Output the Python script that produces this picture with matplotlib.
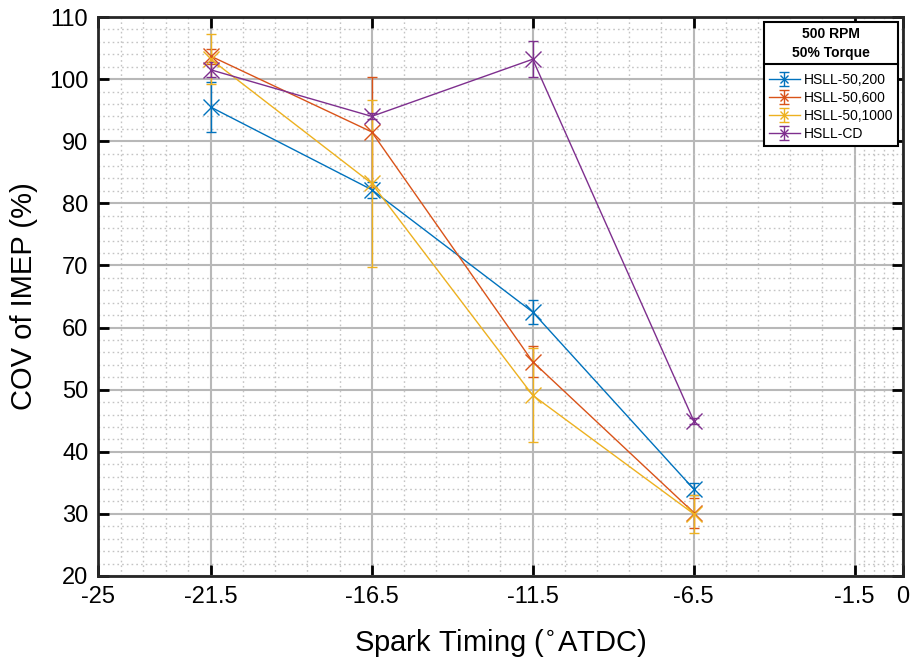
import numpy as np
import matplotlib
matplotlib.use('Agg')
import matplotlib.pyplot as plt
from matplotlib.lines import Line2D

plt.rcParams['font.family'] = ['Liberation Sans', 'DejaVu Sans']

# spark timing (deg ATDC)
timing = [-21.5, -16.5, -11.5, -6.5]
xticks = [-25, -21.5, -16.5, -11.5, -6.5, -1.5, 0]
xticklabels = ['-25', '-21.5', '-16.5', '-11.5', '-6.5', '-1.5', '0']

labels = ['HSLL-50,200', 'HSLL-50,600', 'HSLL-50,1000', 'HSLL-CD']
colors = ['#0072BD', '#D95319', '#EDB120', '#7E2F8E']

# COV of IMEP (%) and error half-widths
cov_200 = [95.5, 82.2, 62.5, 34.0]
err_200 = [4.0, 1.3, 2.0, 1.0]
cov_600 = [103.7, 91.5, 54.5, 30.2]
err_600 = [1.2, 8.8, 2.5, 2.4]
cov_1000 = [103.2, 83.2, 49.1, 30.0]
err_1000 = [4.0, 13.5, 7.6, 3.0]
cov_cd = [101.5, 94.0, 103.2, 45.0]
err_cd = [1.2, 0.5, 2.9, 0.5]

series = [(cov_200, err_200), (cov_600, err_600), (cov_1000, err_1000), (cov_cd, err_cd)]

fig = plt.figure(figsize=(9.12, 6.68), dpi=100)
ax = fig.add_axes([98/912, 1 - 576/668, (903-98)/912, (576-17)/668])

for (y, e), c, lab in zip(series, colors, labels):
    ax.errorbar(timing, y, yerr=e, color=c, marker='x', markersize=11, markeredgewidth=1.0,
                linewidth=1.0, elinewidth=1.0, capsize=3.5, label=lab, zorder=3)

ax.set_xlim(-25, 0)
ax.set_ylim(20, 110)
ax.set_xticks(xticks)
ax.set_xticklabels(xticklabels)
ax.set_yticks(np.arange(20, 111, 10))

# minor grid: 5 divisions between consecutive major ticks
xminor = []
for a, b in zip(xticks[:-1], xticks[1:]):
    xminor += list(np.linspace(a, b, 6)[1:-1])
ax.set_xticks(xminor, minor=True)
ax.set_yticks(np.arange(20, 110, 2), minor=True)

ax.grid(True, which='major', color='#b8b8b8', linewidth=1.5, linestyle='-')
ax.grid(True, which='minor', color='#c4c4c4', linewidth=1.0, linestyle=(0, (1.2, 2.2)))
ax.set_axisbelow(True)

ax.tick_params(which='major', direction='in', length=8, width=2, top=True, right=True,
               labelsize=17, pad=7)
ax.tick_params(which='minor', length=0)
for s in ax.spines.values():
    s.set_linewidth(2)
    s.set_color('#262626')

ax.set_xlabel(r'Spark Timing ($^{\circ}$ATDC)', fontsize=21, labelpad=14)
ax.set_ylabel('COV of IMEP (%)', fontsize=21, labelpad=8)

leg = ax.legend(loc='upper right', title='500 RPM\n50% Torque', fontsize=10,
                title_fontproperties={'weight': 'bold', 'size': 10},
                fancybox=False, edgecolor='black', framealpha=1, markerscale=0.5,
                handlelength=2.2, borderaxespad=0.35, labelspacing=0.3,
                handletextpad=0.3, borderpad=0.35)
leg.get_frame().set_linewidth(1.5)
leg.get_title().set_linespacing(1.5)
leg.get_title().set_multialignment('center')
leg._legend_box.sep = 9

# separator line below the legend title
fig.canvas.draw()
tb = leg.get_title().get_window_extent()
fb = leg.get_frame().get_window_extent()
inv = fig.transFigure.inverted()
ysep = inv.transform((0, tb.y0 - 4))[1]
x0 = inv.transform((fb.x0, 0))[0]
x1 = inv.transform((fb.x1, 0))[0]
fig.add_artist(Line2D([x0, x1], [ysep, ysep], color='black', linewidth=1.5, zorder=10))

fig.savefig('out.png', dpi=100)
